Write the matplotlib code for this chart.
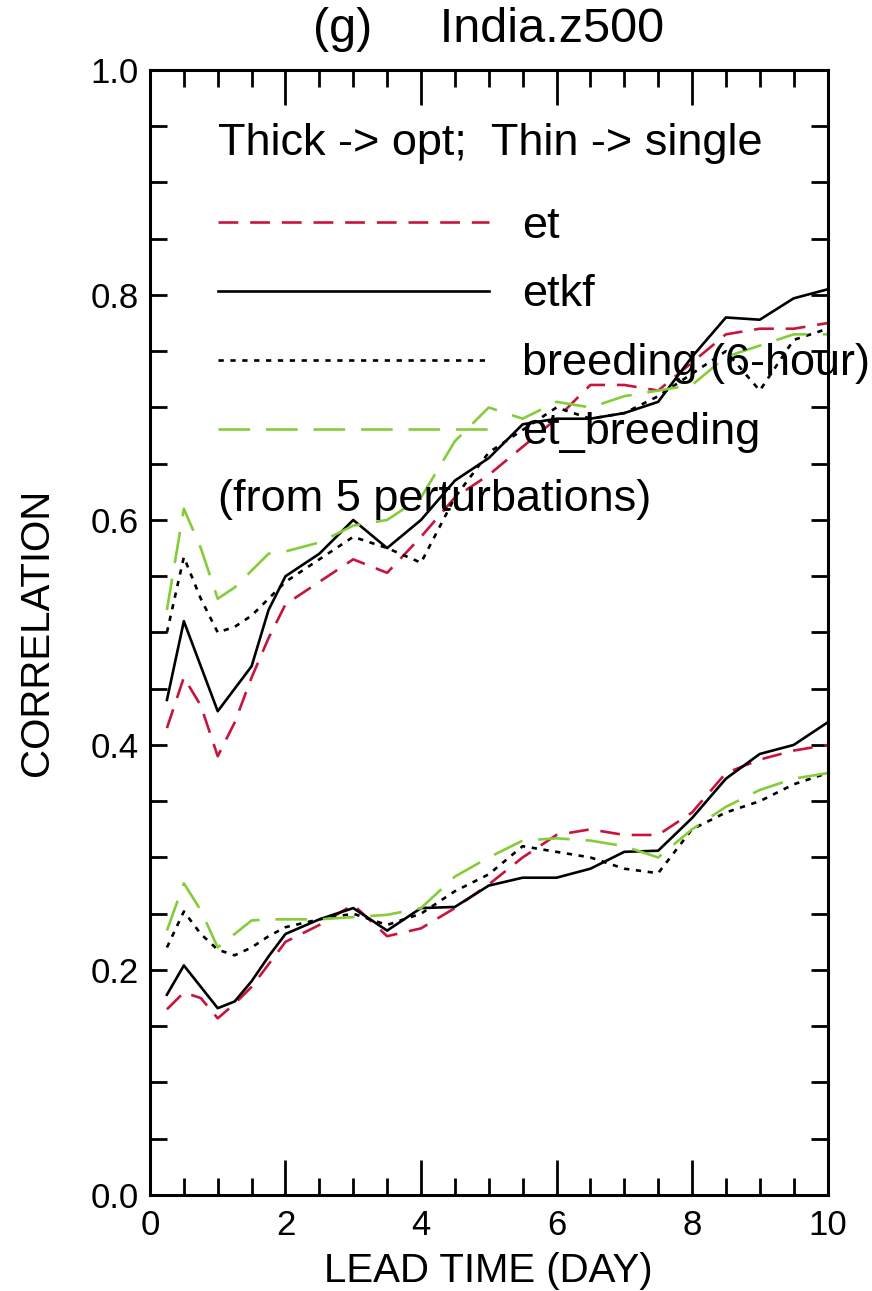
import numpy as np
import matplotlib
matplotlib.use("Agg")
import matplotlib.pyplot as plt
from matplotlib.ticker import MultipleLocator, FormatStrFormatter

plt.rcParams['font.family'] = ['Liberation Sans', 'DejaVu Sans']

# lead time (days)
lead = [0.25, 0.5, 0.75, 1.0, 1.25, 1.5, 1.75, 2.0, 2.5, 3.0, 3.5, 4.0,
        4.5, 5.0, 5.5, 6.0, 6.5, 7.0, 7.5, 8.0, 8.5, 9.0, 9.5, 10.0]

# optimal combination (thick)
et_opt = [0.415, 0.46, 0.435, 0.39, 0.42, 0.46, 0.495, 0.525, 0.545, 0.565, 0.553, 0.585,
          0.62, 0.64, 0.665, 0.69, 0.72, 0.72, 0.715, 0.74, 0.765, 0.77, 0.77, 0.775]
etkf_opt = [0.44, 0.51, 0.47, 0.43, 0.45, 0.47, 0.52, 0.55, 0.57, 0.60, 0.575, 0.60,
            0.635, 0.655, 0.685, 0.69, 0.69, 0.695, 0.705, 0.745, 0.78, 0.778, 0.797, 0.805]
breed_opt = [0.50, 0.567, 0.53, 0.50, 0.505, 0.515, 0.53, 0.545, 0.565, 0.585, 0.575, 0.562,
             0.62, 0.66, 0.68, 0.70, 0.69, 0.695, 0.71, 0.73, 0.75, 0.715, 0.76, 0.77]
etbreed_opt = [0.52, 0.61, 0.575, 0.53, 0.54, 0.555, 0.57, 0.572, 0.58, 0.595, 0.60, 0.62,
               0.67, 0.70, 0.69, 0.705, 0.70, 0.71, 0.715, 0.72, 0.745, 0.755, 0.765, 0.765]

# single perturbation (thin)
et_single = [0.165, 0.18, 0.175, 0.157, 0.17, 0.185, 0.205, 0.225, 0.24, 0.258, 0.23, 0.237,
             0.255, 0.276, 0.30, 0.32, 0.325, 0.32, 0.32, 0.34, 0.375, 0.387, 0.395, 0.40]
etkf_single = [0.178, 0.204, 0.185, 0.166, 0.172, 0.19, 0.212, 0.232, 0.245, 0.255, 0.235, 0.255,
               0.256, 0.275, 0.282, 0.282, 0.29, 0.305, 0.306, 0.335, 0.37, 0.392, 0.40, 0.42]
breed_single = [0.22, 0.252, 0.232, 0.218, 0.213, 0.22, 0.23, 0.238, 0.245, 0.25, 0.24, 0.25,
                0.27, 0.285, 0.31, 0.305, 0.30, 0.29, 0.286, 0.325, 0.34, 0.35, 0.365, 0.375]
etbreed_single = [0.235, 0.277, 0.253, 0.22, 0.232, 0.244, 0.245, 0.245, 0.245, 0.247, 0.249, 0.255,
                  0.283, 0.30, 0.315, 0.317, 0.315, 0.31, 0.30, 0.325, 0.345, 0.36, 0.37, 0.375]

names = ['et', 'etkf', 'breeding (6-hour)', 'et_breeding']
red = '#c8143c'
green = '#86cc3a'
lw = 1.9
styles = [dict(color=red, dashes=(7.5, 4.5)),
          dict(color='k', linestyle='-'),
          dict(color='k', dashes=(2, 2.5)),
          dict(color=green, dashes=(12, 6))]

fig = plt.figure(figsize=(8.72, 12.91), dpi=100)
ax = fig.add_axes([0.172, 0.0744, 0.777, 0.8714])

handles = []
for ys, st, nm in zip([et_opt, etkf_opt, breed_opt, etbreed_opt], styles, names):
    h, = ax.plot(lead, ys, lw=lw, label=nm, **st)
    handles.append(h)
for ys, st in zip([et_single, etkf_single, breed_single, etbreed_single], styles):
    ax.plot(lead, ys, lw=lw, **st)

ax.set_xlim(0, 10)
ax.set_ylim(0, 1)
ax.xaxis.set_major_locator(MultipleLocator(2))
ax.xaxis.set_minor_locator(MultipleLocator(0.5))
ax.yaxis.set_major_locator(MultipleLocator(0.2))
ax.yaxis.set_minor_locator(MultipleLocator(0.05))
ax.yaxis.set_major_formatter(FormatStrFormatter('%.1f'))
ax.xaxis.set_major_formatter(FormatStrFormatter('%d'))

for s in ax.spines.values():
    s.set_linewidth(2.2)
ax.tick_params(which='both', direction='in', top=True, right=True, width=2, labelsize=25)
ax.tick_params(axis='x', which='major', length=25, pad=10)
ax.tick_params(axis='x', which='minor', length=12)
ax.tick_params(axis='y', which='both', length=12, pad=8)

ax.set_xlabel('LEAD TIME (DAY)', fontsize=29, labelpad=7)
ax.set_ylabel('CORRELATION', fontsize=29, labelpad=25)
ax.set_title('(g)     India.z500', fontsize=35, pad=20)

leg = ax.legend(handles=handles, loc='upper left', bbox_to_anchor=(0.1, 0.953),
                frameon=False, fontsize=32.5, handlelength=6.0, handletextpad=0.75,
                labelspacing=0.62, borderpad=0, borderaxespad=0,
                title='Thick -> opt;  Thin -> single', title_fontsize=32.5,
                alignment='left')
leg._legend_box.sep = 30
ax.text(0.1, 0.618, '(from 5 perturbations)', transform=ax.transAxes,
        fontsize=32.5, va='center', ha='left')

fig.savefig('out.png', dpi=100)
